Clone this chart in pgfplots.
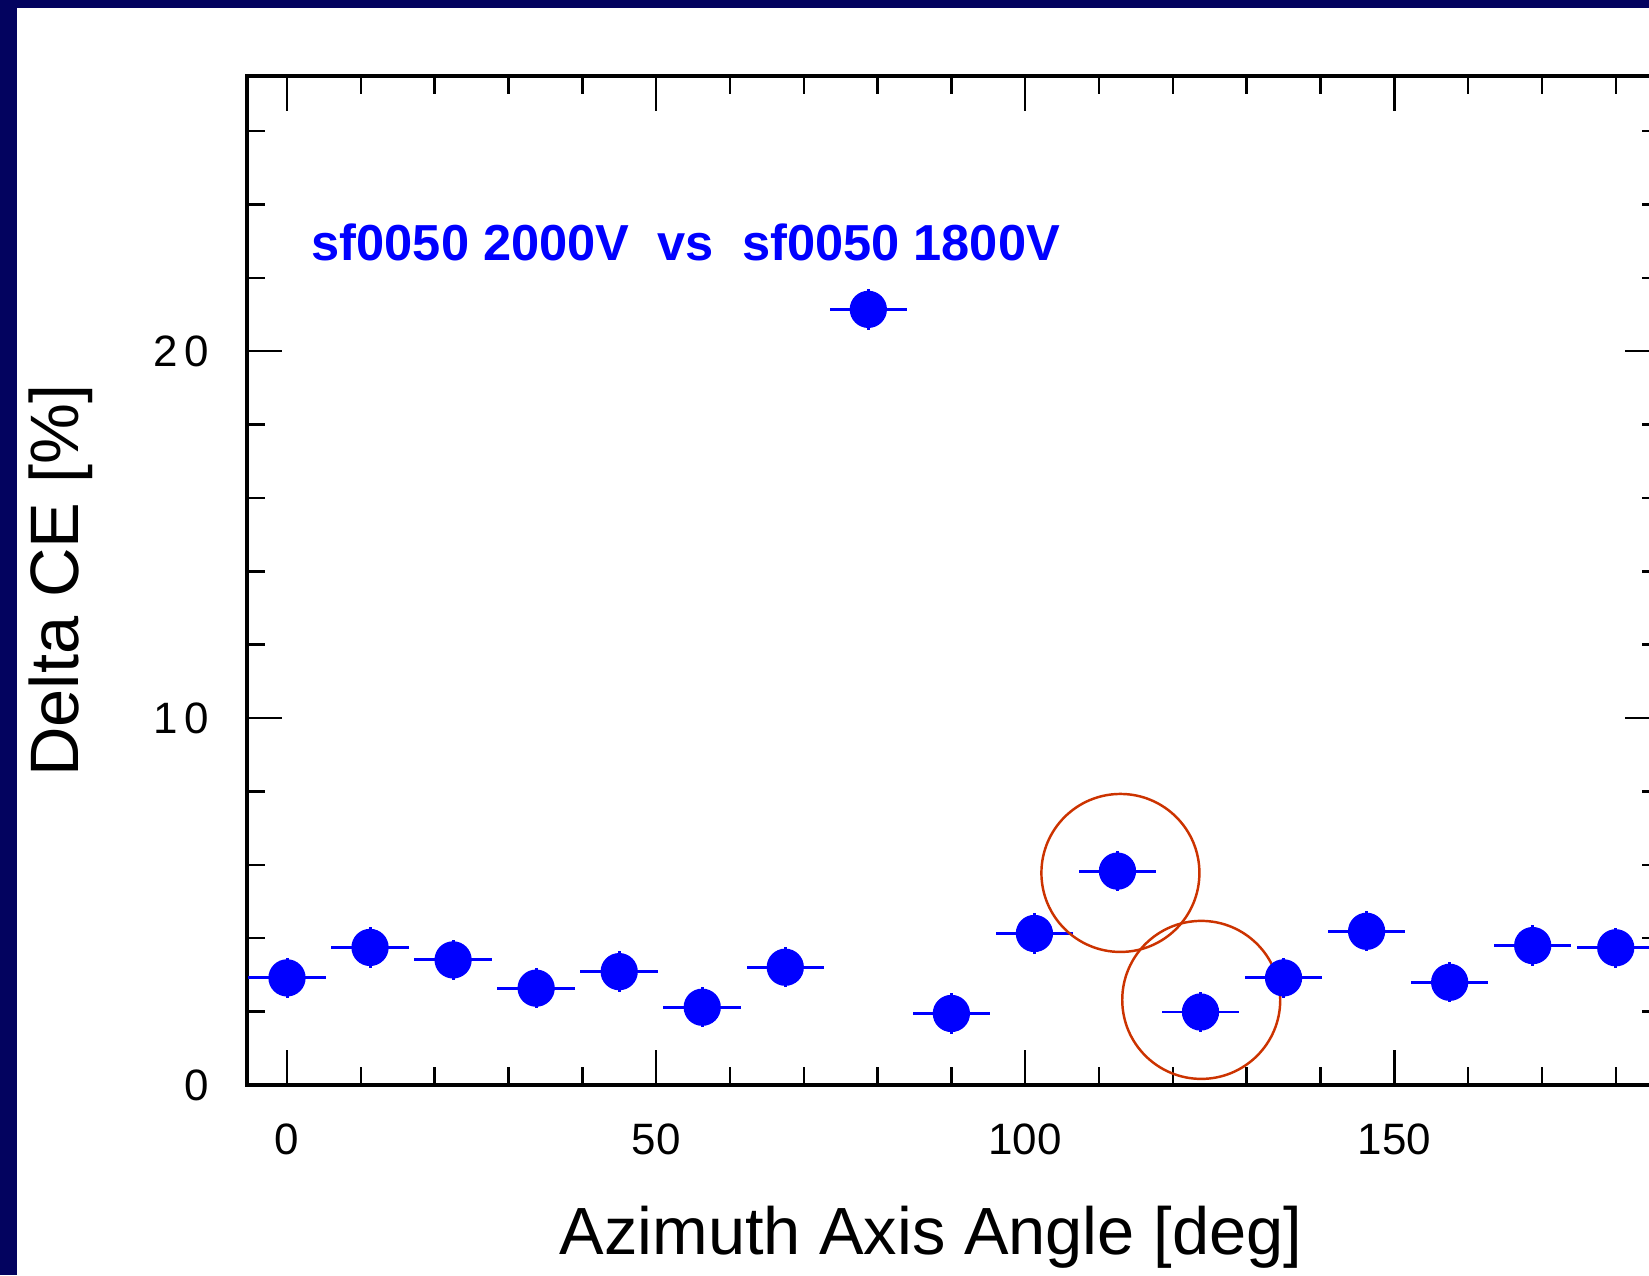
\documentclass[border=0pt]{standalone}
\usepackage{fontspec}
\setmainfont{Liberation Sans}
\usepackage{pgfplots}
\pgfplotsset{compat=1.18}
\definecolor{navybg}{RGB}{3,3,95}
\definecolor{circred}{RGB}{204,51,0}
\begin{document}
\begin{tikzpicture}
\useasboundingbox (0,0) rectangle (16.49,12.75);
\clip (0,0) rectangle (16.49,12.75);
\fill[navybg] (0,0) rectangle (16.49,12.75);
\fill[white] (0.17,0) rectangle (16.49,12.67);
\begin{axis}[
  scale only axis, width=14.13cm, height=10.09cm,
  at={(2.47cm,1.90cm)}, anchor=south west,
  xmin=-5.42, xmax=186.0, ymin=0, ymax=27.5,
  xtick={0,50,100,150},
  minor xtick={10,20,30,40,60,70,80,90,110,120,130,140,160,170,180},
  ytick={0,10,20}, yticklabels={0,1\hspace{2pt}0,2\hspace{2pt}0},
  minor ytick={2,4,6,8,12,14,16,18,22,24,26},
  tick align=inside, major tick length=0.35cm, minor tick length=0.18cm,
  axis line style={line width=1.1pt},
  every tick/.append style={black, line width=0.7pt},
  /pgf/number format/assume math mode=true,
  tick label style={font=\fontsize{12.5}{13}\selectfont},
  xticklabel style={anchor=north, inner sep=0pt, yshift=-0.38cm},
  yticklabel style={anchor=east, inner sep=0pt, xshift=-0.37cm},
  xlabel={Azimuth Axis Angle [deg]},
  xlabel style={at={(axis description cs:0.484,-0.1675)}, anchor=base, inner sep=0pt, font=\fontsize{19}{20}\selectfont},
  ylabel={Delta CE [\%]},
  ylabel style={at={(axis description cs:-0.1196,0.5)}, anchor=base, inner sep=0pt, font=\fontsize{19.5}{20}\selectfont},
]
\addplot[only marks, mark=*, mark size=5.1pt, color=blue, mark options={fill=blue, draw=blue},
  error bars/.cd, x dir=both, x explicit, y dir=both, y explicit,
  error bar style={line width=0.85pt, blue}, error mark=none]
coordinates {
  (0,2.92) +- (5.25,0.55)
  (11.25,3.75) +- (5.25,0.55)
  (22.5,3.41) +- (5.25,0.55)
  (33.75,2.64) +- (5.25,0.55)
  (45,3.09) +- (5.25,0.55)
  (56.25,2.12) +- (5.25,0.55)
  (67.5,3.21) +- (5.25,0.55)
  (78.75,21.14) +- (5.25,0.55)
  (90,1.95) +- (5.25,0.55)
  (101.25,4.13) +- (5.25,0.55)
  (112.5,5.83) +- (5.25,0.55)
  (123.75,1.99) +- (5.25,0.55)
  (135,2.92) +- (5.25,0.55)
  (146.25,4.19) +- (5.25,0.55)
  (157.5,2.80) +- (5.25,0.55)
  (168.75,3.80) +- (5.25,0.55)
  (180,3.74) +- (5.25,0.55)
};
\node[anchor=base west, inner sep=0pt, text=blue, font=\bfseries\fontsize{14.4}{15}\selectfont]
  at (axis cs:3.25,22.48) {sf0050 2000V\ \ vs\ \ sf0050 1800V};
\draw[circred, line width=0.7pt] (axis cs:112.9,5.78) circle[radius=0.79cm];
\draw[circred, line width=0.7pt] (axis cs:123.85,2.32) circle[radius=0.79cm];
\end{axis}
\end{tikzpicture}
\end{document}
